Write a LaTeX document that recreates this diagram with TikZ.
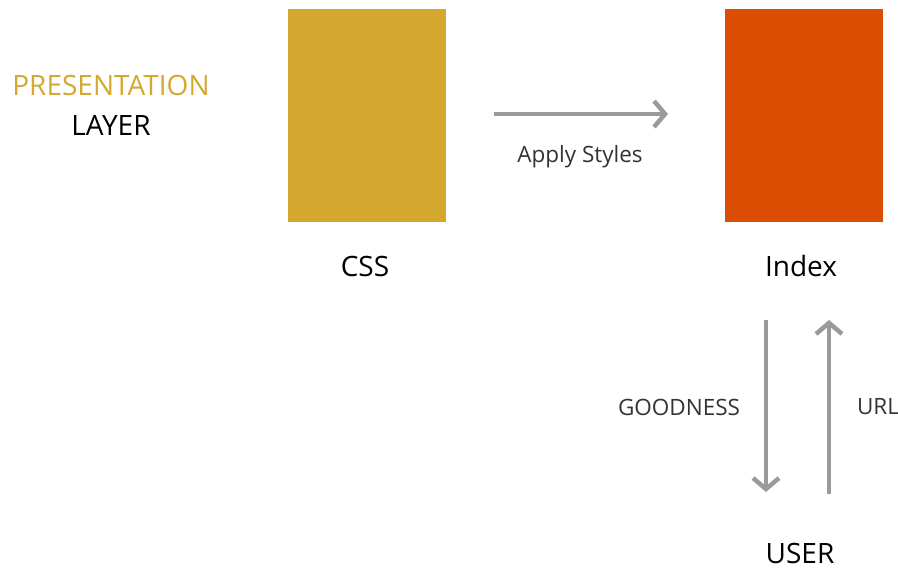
\documentclass[tikz,border=0pt]{standalone}
\usepackage{fontspec}
\setmainfont{Open Sans}
\usetikzlibrary{arrows.meta}
\definecolor{cssgold}{HTML}{D4A82F}
\definecolor{idxorange}{HTML}{DC4D04}
\definecolor{arrowgray}{HTML}{9A9A9A}
\definecolor{labelgray}{HTML}{333333}
\tikzset{
  block/.style={inner sep=0pt, minimum width=158pt, minimum height=213pt, draw=none},
  biglabel/.style={font=\fontsize{28}{32}\selectfont, text=black},
  smalllabel/.style={font=\fontsize{22.5}{26}\selectfont, text=labelgray},
  flow/.style={draw=arrowgray, line width=4.5pt, -{Straight Barb[length=11pt, width=26pt]}},
}
\begin{document}
\begin{tikzpicture}[x=1pt, y=-1pt]
\useasboundingbox (0,0) rectangle (898,568);
\node[block, fill=cssgold] (css) at (367,115.5) {};
\node[block, fill=idxorange] (index) at (803.5,115.5) {};
\node[biglabel] (csslbl) at (365,266) {CSS};
\node[biglabel] (indexlbl) at (801,266) {Index};
\node[biglabel] (user) at (800,553) {USER};
\node[biglabel, text=cssgold] (pres) at (111,85) {PRESENTATION};
\node[biglabel] (layer) at (111,125) {LAYER};
\coordinate (a1) at (494,114);
\coordinate (a2) at (668,114);
\draw[flow] (a1) -- (a2);
\node[smalllabel] (apply) at (580,157) {Apply Styles};
\coordinate (d1) at (766,320);
\coordinate (d2) at (766,492);
\draw[flow] (d1) -- (d2);
\coordinate (u1) at (829,494);
\coordinate (u2) at (829,320);
\draw[flow] (u1) -- (u2);
\node[smalllabel] (good) at (679,407) {GOODNESS};
\node[smalllabel] (url) at (878,407) {URL};
\end{tikzpicture}
\end{document}
